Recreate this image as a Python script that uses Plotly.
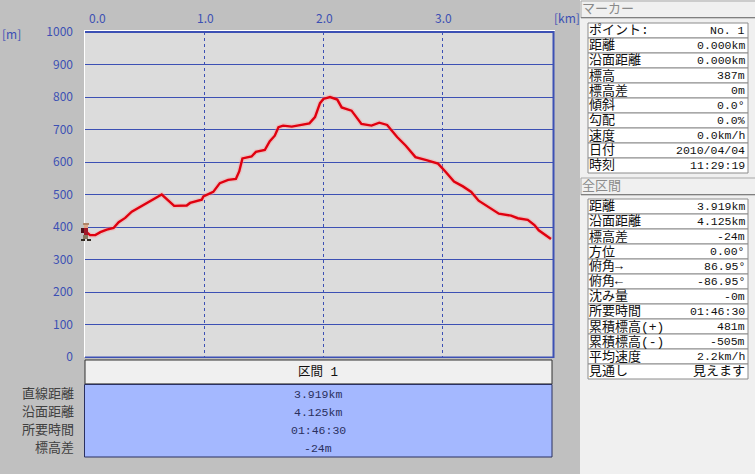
import plotly.graph_objects as go

W, H = 755, 474
L, R, T, B = 85, 553, 32, 357

# profile data
distance_km = [0.0,0.04,0.084,0.126,0.18,0.237,0.28,0.335,0.39,0.49,0.573,0.642,0.746,0.852,0.88,0.978,0.992,
 1.075,1.13,1.2,1.265,1.293,1.32,1.397,1.433,1.508,1.55,1.592,1.623,1.662,1.735,1.774,1.804,1.883,1.93,1.972,
 2.0,2.056,2.117,2.154,2.237,2.32,2.405,2.47,2.536,2.62,2.693,2.774,2.866,2.964,3.025,3.098,3.173,3.243,3.305,
 3.397,3.475,3.578,3.634,3.718,3.774,3.81,3.913]
elevation_m = [387,375,375,384,392,397,415,428,447,469,487,500,465,466,474,484,494,
 508,535,545,548,571,611,617,631,637,664,681,707,712,709,712,714,719,738,781,
 794,800,792,768,758,717,712,721,714,677,650,615,606,595,571,540,525,508,481,
 459,441,435,427,422,406,390,363]

x_ticks = [0, 1, 2, 3]
x_tick_labels = ["0.0", "1.0", "2.0", "3.0"]
y_ticks = [0,100,200,300,400,500,600,700,800,900,1000]
y_tick_labels = [str(v) for v in y_ticks]

section_title = "区間 1"
section_labels = ["直線距離", "沿面距離", "所要時間", "標高差"]
section_values = ["3.919km", "4.125km", "01:46:30", "-24m"]

marker_title = "マーカー"
marker_labels = ["ポイント:", "距離", "沿面距離", "標高", "標高差", "傾斜", "勾配", "速度", "日付", "時刻"]
marker_values = ["No. 1", "0.000km", "0.000km", "387m", "0m", "0.0°", "0.0%", "0.0km/h", "2010/04/04", "11:29:19"]

total_title = "全区間"
total_labels = ["距離", "沿面距離", "標高差", "方位", "俯角→", "俯角←", "沈み量", "所要時間", "累積標高(+)", "累積標高(-)", "平均速度", "見通し"]
total_values = ["3.919km", "4.125km", "-24m", "0.00°", "86.95°", "-86.95°", "-0m", "01:46:30", "481m", "-505m", "2.2km/h", "見えます"]

BLUE = "#3c50b4"
MONO = "Liberation Mono, Noto Sans CJK JP"
JP = "Noto Sans CJK JP"

px = lambda v: v / W
py = lambda v: 1 - v / H

shapes, ann = [], []

def rect(x0, y0, x1, y1, fill, line=None, lw=1, layer="below"):
    shapes.append(dict(type="rect", xref="paper", yref="paper", x0=px(x0), x1=px(x1), y0=py(y0), y1=py(y1),
                       fillcolor=fill, line=dict(color=line or fill, width=lw if line else 0), layer=layer))

def text(x, y, s, size=12, color="black", anchor="left", family=MONO):
    ann.append(dict(xref="paper", yref="paper", x=px(x), y=py(y), text=s, showarrow=False, xanchor=anchor,
                    yanchor="middle", font=dict(size=size, color=color, family=family), borderpad=0, borderwidth=0))

# right panel
rect(580, 0, W, H, "#f0f0f0")

def header(y0, y1, s):
    rect(581, y0, W + 2, y1, "#f0f0f0", "#a8a8a8", 1)
    rect(581, y1 - 1, W, y1, "#808080")
    text(582, (y0 + y1) / 2, s, 13, "#8a8a8a")

def table(top, labels, values):
    row = 15
    for i, (a, b) in enumerate(zip(labels, values)):
        y0 = top + i * row
        rect(588, y0, 748, y0 + row, "white", "#8c8c8c", 1)
        text(589, y0 + 7.5, a, 13, "#101010")
        cjk = any(ord(c) > 0x3000 for c in b)
        text(745, y0 + 7.5, b, 13 if cjk else 11.5, "#101010", "right")

header(1, 18, marker_title)
table(23, marker_labels, marker_values)
header(178, 195, total_title)
table(199, total_labels, total_values)

# section block under the plot
rect(85, 360, 552, 384, "#f0f0f0", "#303030", 1)
rect(86, 383, 551, 384.5, "#808080")
rect(84.5, 384.5, 552, 457, "#a4b8ff", "#2a3060", 1)
text(318, 372, section_title, 12.5, "#101010", "center")
for i, (a, b) in enumerate(zip(section_labels, section_values)):
    y = 394 + i * 18
    text(74, y, a, 13, "#404040", "right")
    text(318, y, b, 11.5, "#2a3060", "center")

# axis units
text(2, 33, "[m]", 12, BLUE, "left", JP)
text(554, 17, "[km]", 12, BLUE, "left", JP)

# top tick labels placed above the plot frame (the first one sits right of its gridline)
for v, s in zip(x_ticks, x_tick_labels):
    ann.append(dict(xref="x", yref="paper", x=v, y=py(17), text=s, showarrow=False, xanchor="center",
                    yanchor="middle", xshift=12 if v == 0 else 1, font=dict(size=12, color=BLUE, family=JP)))

# frame around the plot
rect(84, 30, 85, 357, "white", layer="above")
rect(84, 30, 555, 31, "white", layer="above")
rect(85, 31, 554, 33, BLUE, layer="above")
rect(552.5, 31, 554.5, 358, BLUE, layer="above")
rect(85, 356.5, 554, 358, BLUE, layer="above")

# walker figure at the start of the route
for box, col in [((83, 223, 89, 225), "#b08468"), ((84, 225, 88, 228), "#e0a888"), ((81, 228, 84, 233), "#501018"),
                 ((84, 228, 88, 235), "#a01828"), ((83, 235, 88, 239), "#887860"), ((81, 239, 85, 241), "#302820"),
                 ((87, 239, 91, 241), "#302820")]:
    rect(box[0], box[1], box[2], box[3], col, layer="above")

fig = go.Figure()
fig.add_trace(go.Scatter(x=distance_km, y=elevation_m, mode="lines", hoverinfo="skip",
                         line=dict(color="rgba(255,150,150,0.35)", width=5), showlegend=False))
fig.add_trace(go.Scatter(x=distance_km, y=elevation_m, mode="lines",
                         line=dict(color="#e0000f", width=2.4), showlegend=False))

fig.update_layout(
    width=W, height=H, autosize=False,
    margin=dict(l=0, r=0, t=0, b=0, pad=0, autoexpand=False),
    paper_bgcolor="#c0c0c0", plot_bgcolor="#dcdcdc",
    shapes=shapes, annotations=ann, showlegend=False,
    xaxis=dict(domain=[px(L), px(R)], range=[-0.003, 3.93], tickvals=x_ticks, showticklabels=False, ticks="",
               showgrid=True, gridcolor=BLUE, gridwidth=1, griddash="dot", zeroline=False, showline=False, fixedrange=True),
    yaxis=dict(domain=[py(B), py(T)], range=[0, 1000], tickvals=y_ticks, ticktext=y_tick_labels, ticks="",
               tickfont=dict(size=12, color=BLUE, family=JP), ticklabelstandoff=11,
               showgrid=True, gridcolor=BLUE, gridwidth=1.3, zeroline=False, showline=False, fixedrange=True),
)
fig.write_html("out.html", config=dict(displayModeBar=False),
               post_script="document.body.style.margin='0';document.documentElement.style.overflow='hidden';")
